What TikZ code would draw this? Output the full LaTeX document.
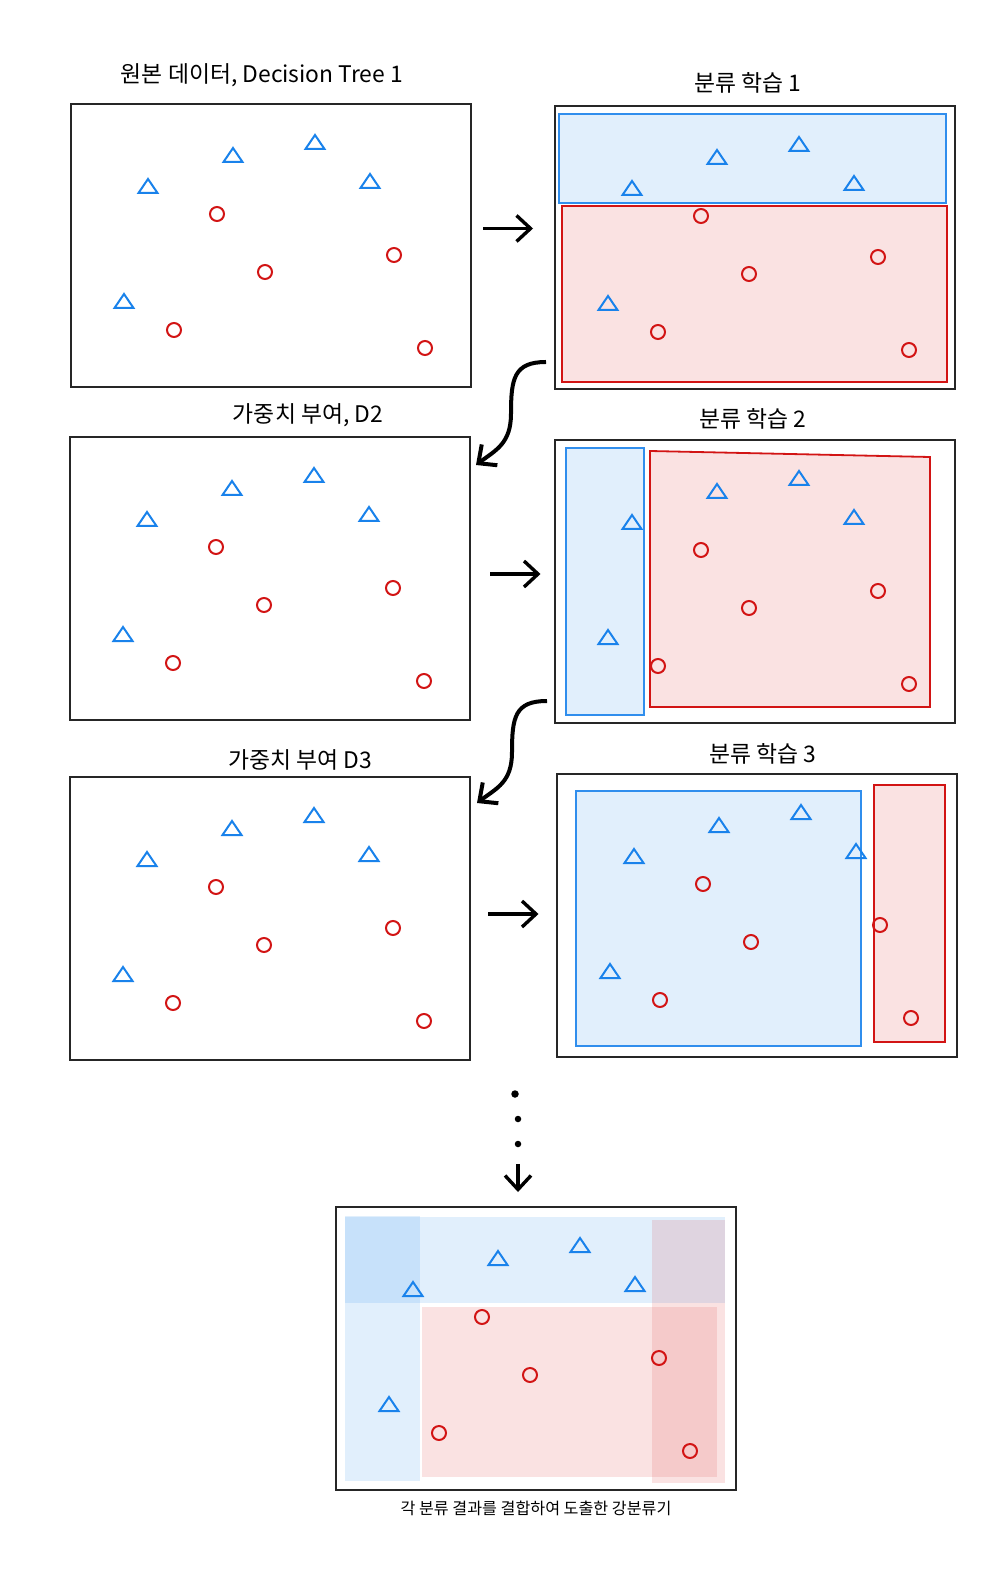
\documentclass[tikz,border=0pt]{standalone}
\usepackage{fontspec}
\setmainfont{Noto Sans CJK KR}
\usepackage{xcolor}
\usepackage{tikz}
\usetikzlibrary{arrows.meta, positioning, calc}
\definecolor{ptblue}{RGB}{25,130,235}
\definecolor{ptred}{RGB}{210,20,20}
\tikzstyle{arrow} = [line width=0.34mm, -{Straight Barb[length=1.4mm,width=2.6mm]}]

% puntos de datos (relativos a cada panel)
\newcommand{\samplepoints}[1]{%
  \begin{scope}[shift={(#1.north west)}]
    \foreach \px/\py in {77/82, 162/51, 244/38, 299/77, 53/197}
      \draw[tri] (\px,\py) ++(-9.5,7) -- ++(19,0) -- ++(-9.5,-14) -- cycle;
    \foreach \px/\py in {146/110, 194/168, 323/151, 103/226, 354/244}
      \draw[dot] (\px,\py) circle[radius=0.7mm];
  \end{scope}}

\begin{document}
\begin{tikzpicture}[
		x=0.1mm, y=-0.1mm,
		every node/.style={font=\fontsize{6.5}{7}\selectfont},
		panel/.style={draw=black!85, line width=0.2mm, minimum width=40mm, minimum height=28.3mm, inner sep=0, outer sep=0, anchor=north west},
		tri/.style={draw=ptblue, line width=0.2mm, line join=miter},
		dot/.style={draw=ptred, line width=0.2mm},
		bluebox/.style={draw=ptblue!90, line width=0.18mm, fill=ptblue, fill opacity=0.13},
		redbox/.style={draw=ptred, line width=0.18mm, fill=ptred, fill opacity=0.12},
		bluezone/.style={fill=ptblue, fill opacity=0.13},
		redzone/.style={fill=ptred, fill opacity=0.12},
		dotnode/.style={circle, fill=black, inner sep=0, minimum size=0.65mm}
		]
		\useasboundingbox (0,0) rectangle (1000,1587);
		
		% Paneles
		\node[panel] (data1) at (71,104) {};
		\node[panel] (learn1) at (555,106) {};
		\node[panel] (data2) at (70,437) {};
		\node[panel] (learn2) at (555,440) {};
		\node[panel] (data3) at (70,777) {};
		\node[panel] (learn3) at (557,774) {};
		\node[panel] (final) at (336,1207) {};
		
		% Regiones de clasificacion
		\begin{scope}[shift={(learn1.north west)}]
			\draw[bluebox] (4,8) rectangle (391,97);
			\draw[redbox] (7,100) rectangle (392,276);
		\end{scope}
		\begin{scope}[shift={(learn2.north west)}]
			\draw[bluebox] (11,8) rectangle (89,275);
			\draw[redbox] (95,11) -- (375,17) -- (375,267) -- (95,267) -- cycle;
		\end{scope}
		\begin{scope}[shift={(learn3.north west)}]
			\draw[bluebox] (19,17) rectangle (304,272);
			\draw[redbox] (317,11) rectangle (388,268);
		\end{scope}
		\begin{scope}[shift={(final.north west)}]
			\fill[bluezone] (9,9) rectangle (84,274);
			\fill[bluezone] (9,10) rectangle (389,96);
			\fill[redzone] (86,100) rectangle (381,270);
			\fill[redzone] (316,13) rectangle (389,276);
		\end{scope}
		
		% Datos
		\foreach \p in {data1, learn1, data2, learn2, data3, learn3, final}
			\samplepoints{\p};
		
		% Titulos
		\node (title1) at ($(data1.north)+(-9,-29)$) {원본 데이터, Decision Tree 1};
		\node (title2) at ($(learn1.north)+(-7,-23)$) {분류 학습 1};
		\node (title3) at ($(data2.north)+(38,-22)$) {가중치 부여, D2};
		\node (title4) at ($(learn2.north)+(-2,-21)$) {분류 학습 2};
		\node (title5) at ($(data3.north)+(30,-17)$) {가중치 부여 D3};
		\node (title6) at ($(learn3.north)+(6,-20)$) {분류 학습 3};
		\node[font=\fontsize{4.6}{5}\selectfont] (title7) at ($(final.south)+(0,18)$) {각 분류 결과를 결합하여 도출한 강분류기};
		
		% Flechas
		\draw[arrow, shorten <=1.2mm, shorten >=2.2mm] ([yshift=1.7mm]data1.east) -- ([yshift=1.7mm]data1.east -| learn1.west);
		\draw[arrow, shorten <=2mm, shorten >=1.45mm] ([yshift=0.45mm]data2.east) -- ([yshift=0.45mm]data2.east -| learn2.west);
		\draw[arrow, shorten <=1.8mm, shorten >=1.85mm] ([yshift=0.45mm]data3.east) -- ([yshift=0.45mm]data3.east -| learn3.west);
		
		\coordinate (c1s) at ($(learn1.south west)+(-9,-27)$);
		\coordinate (c1e) at ($(data2.north east)+(6,28)$);
		\draw[arrow, line width=0.4mm] (c1s) .. controls +(-32,0) and +(0,-35) .. ($(c1s)!0.5!(c1e)$) .. controls +(0,30) and +(20,-15) .. (c1e);
		\coordinate (c2s) at ($(learn2.south west)+(-8,-22)$);
		\coordinate (c2e) at ($(data3.north east)+(7,26)$);
		\draw[arrow, line width=0.4mm] (c2s) .. controls +(-32,0) and +(0,-35) .. ($(c2s)!0.5!(c2e)$) .. controls +(0,30) and +(20,-15) .. (c2e);
		
		% Puntos suspensivos
		\node[dotnode, minimum size=0.75mm] (dot1) at (515,1094) {};
		\node[dotnode] (dot2) at (518,1119) {};
		\node[dotnode] (dot3) at (518,1144) {};
		\draw[arrow, shorten <=1.6mm, shorten >=1.5mm] (dot3) -- (dot3 |- final.north);
	\end{tikzpicture}
\end{document}
